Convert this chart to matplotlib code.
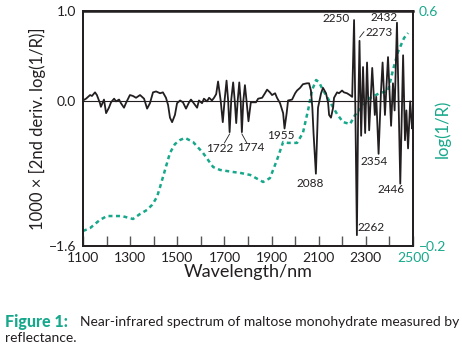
import matplotlib
matplotlib.use("Agg")
import matplotlib.pyplot as plt

plt.rcParams['font.family'] = ['Lato', 'DejaVu Sans']

TEAL = '#17a88b'
DARK = '#231f20'

# 2nd derivative spectrum (left axis)
deriv_nm = [1100, 1113, 1130, 1138, 1151, 1159, 1172, 1176, 1189, 1198, 1210, 1219, 1232, 1240,
            1253, 1261, 1274, 1282, 1299, 1312, 1325, 1342, 1359, 1372, 1384, 1397, 1410, 1427,
            1439, 1452, 1461, 1469, 1478, 1490, 1499, 1512, 1524, 1537, 1550, 1558, 1567, 1584,
            1592, 1605, 1613, 1626, 1635, 1647, 1656, 1665, 1673, 1684, 1693, 1701, 1709, 1716,
            1722, 1729, 1737, 1744, 1750, 1756, 1763, 1769, 1774, 1780, 1787, 1794, 1802, 1812,
            1821, 1834, 1843, 1860, 1872, 1881, 1893, 1902, 1915, 1923, 1936, 1949, 1955, 1964,
            1970, 1987, 2000, 2008, 2021, 2033, 2050, 2059, 2067, 2073, 2078, 2088, 2093, 2097,
            2110, 2118, 2131, 2140, 2144, 2152, 2161, 2165, 2178, 2186, 2199, 2207, 2220, 2232,
            2242, 2250, 2256, 2262, 2267, 2273, 2280, 2288, 2297, 2305, 2314, 2327, 2338, 2344,
            2354, 2364, 2371, 2381, 2394, 2407, 2415, 2422, 2432, 2446, 2458, 2466, 2472, 2479,
            2488, 2496, 2500]
deriv_val = [0.01, 0.03, 0.07, 0.06, 0.10, 0.07, -0.02, -0.06, 0.02, -0.13, -0.07, -0.01, 0.03, 0.00,
             0.02, -0.02, -0.07, -0.02, 0.07, 0.06, 0.04, 0.07, 0.03, -0.08, -0.02, 0.10, 0.11, 0.09,
             0.10, 0.04, -0.04, -0.18, -0.23, -0.15, -0.02, 0.01, -0.01, -0.08, -0.01, 0.02, -0.01, -0.07,
             0.01, -0.02, 0.03, 0.00, 0.04, 0.01, 0.04, 0.08, 0.22, 0.01, -0.23, 0.02, 0.23, 0.00,
             -0.34, 0.02, 0.21, 0.00, -0.24, 0.00, 0.21, 0.00, -0.34, 0.00, 0.18, 0.00, -0.22, -0.01,
             -0.01, -0.01, 0.03, 0.04, 0.09, 0.13, 0.10, 0.07, 0.09, 0.04, -0.02, -0.13, -0.30, -0.13,
             0.01, 0.02, 0.09, 0.12, 0.15, 0.19, 0.20, 0.20, 0.12, -0.07, -0.35, -0.80, -0.40, -0.07,
             0.09, 0.15, 0.09, -0.02, -0.15, -0.18, -0.07, 0.04, 0.10, 0.09, 0.12, 0.10, 0.09, 0.07,
             0.05, 0.90, -0.20, -1.48, -0.20, 0.67, -0.38, 0.38, -0.35, 0.43, -0.32, 0.37, -0.15, 0.05,
             -0.58, 0.10, 0.43, -0.15, 0.49, -0.27, 0.20, -0.10, 0.87, -0.91, 0.51, -0.43, -0.10, -0.52,
             0.00, -0.30, -0.20]

# log(1/R) spectrum (right axis)
log_nm = [1100, 1130, 1172, 1202, 1236, 1265, 1312, 1342, 1372, 1393, 1414, 1427, 1448, 1469,
          1490, 1512, 1533, 1567, 1609, 1652, 1681, 1736, 1766, 1809, 1864, 1893, 1923, 1949,
          1970, 2008, 2033, 2055, 2072, 2089, 2101, 2118, 2148, 2178, 2203, 2233, 2254, 2284,
          2318, 2360, 2394, 2415, 2436, 2462, 2479]
log_val = [-0.149, -0.139, -0.111, -0.098, -0.098, -0.098, -0.108, -0.091, -0.077, -0.060, -0.033,
           0.001, 0.059, 0.117, 0.147, 0.161, 0.168, 0.154, 0.117, 0.069, 0.059, 0.052, 0.049,
           0.042, 0.018, 0.031, 0.093, 0.154, 0.151, 0.151, 0.185, 0.263, 0.331, 0.365, 0.358,
           0.331, 0.290, 0.249, 0.222, 0.215, 0.246, 0.273, 0.304, 0.321, 0.328, 0.399, 0.460,
           0.508, 0.525]

xticks_major = [1100, 1300, 1500, 1700, 1900, 2100, 2300, 2500]
xticks_minor = [1200, 1400, 1600, 1800, 2000, 2200, 2400]
left_ticks = [1.0, 0.0, -1.6]
left_labels = ['1.0', '0.0', '\u22121.6']
right_ticks = [0.6, -0.2]
right_labels = ['0.6', '\u22120.2']

# peak labels: text, text position (nm, value)
peak_labels = [('2250', 2173, 0.92), ('2432', 2379, 0.93), ('2273', 2356, 0.76),
               ('1722', 1681, -0.52), ('1774', 1811, -0.51), ('1955', 1938, -0.38),
               ('2088', 2063, -0.91), ('2354', 2337, -0.67), ('2446', 2409, -0.98),
               ('2262', 2324, -1.40)]

fig = plt.figure(figsize=(4.62, 3.44), dpi=100)
ax = fig.add_axes([83/462, 1-246/344, 330/462, 235/344])
ax2 = ax.twinx()

ax2.plot(log_nm, log_val, color=TEAL, lw=1.8, linestyle=(0, (1.6, 1.4)), zorder=1)
ax2.set_ylim(-0.2, 0.6)

ax.axhline(0, color=DARK, lw=0.8, zorder=2)
ax.plot(deriv_nm, deriv_val, color=DARK, lw=1.3, zorder=3)
ax.set_zorder(ax2.get_zorder() + 1)
ax.patch.set_visible(False)

ax.set_xlim(1100, 2500)
ax.set_ylim(-1.6, 1.0)

ax.set_xticks(xticks_major)
ax.set_xticks(xticks_minor, minor=True)
ax.set_xticklabels([str(t) for t in xticks_major])
ax.tick_params(axis='x', which='both', direction='in', length=7, width=1.0, color='#555555',
               labelsize=10, labelcolor=DARK, pad=4)
for lbl in ax.get_xticklabels():
    if lbl.get_text() == '2500':
        lbl.set_color(TEAL)

ax.set_yticks(left_ticks)
ax.set_yticklabels(left_labels)
ax.tick_params(axis='y', length=0, labelsize=10, labelcolor=DARK, pad=5)

ax2.set_yticks(right_ticks)
ax2.set_yticklabels(right_labels)
ax2.tick_params(axis='y', length=0, labelsize=10, labelcolor=TEAL, pad=4)

for a in (ax, ax2):
    for s in a.spines.values():
        s.set_color(DARK)
        s.set_linewidth(1.3)
ax.spines['top'].set_linewidth(1.8)

ax.set_xlabel('Wavelength/nm', fontsize=13, color=DARK, labelpad=0)
ax.set_ylabel('1000 \u00d7 [2nd deriv. log(1/R)]', fontsize=12, color=DARK, labelpad=2)
ax2.set_ylabel('log(1/R)', fontsize=12, color=TEAL)
ax2.yaxis.set_label_coords(1.065, 0.5)

for txt, xn, yv in peak_labels:
    ax.text(xn, yv, txt, fontsize=8.5, color=DARK, ha='center', va='center', zorder=5)

# leader lines
ax.plot([2274, 2292], [0.71, 0.77], color=DARK, lw=0.6)
ax.plot([1722, 1700], [-0.36, -0.46], color=DARK, lw=0.6)
ax.plot([1774, 1795], [-0.36, -0.46], color=DARK, lw=0.6)

fig.text(5/462, 1-322/344, 'Figure 1:', fontsize=11.5, color=TEAL, fontweight='black', va='center')
fig.text(80/462, 1-322/344, 'Near-infrared spectrum of maltose monohydrate measured by',
         fontsize=10, color=DARK, va='center')
fig.text(5/462, 1-338/344, 'reflectance.', fontsize=10, color=DARK, va='center')

fig.savefig('out.png', dpi=100)
